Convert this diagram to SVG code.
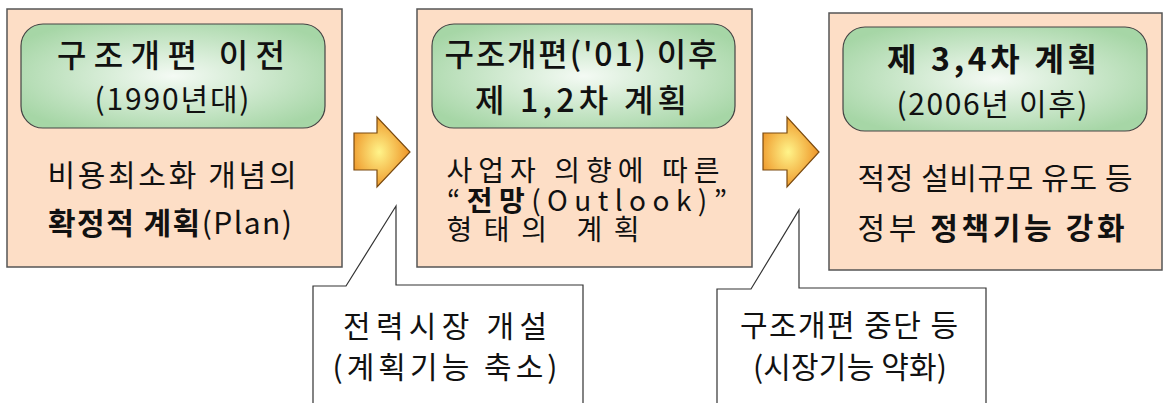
<svg xmlns="http://www.w3.org/2000/svg" width="1163" height="403" viewBox="0 0 1163 403">
<defs>
<radialGradient id="gg" cx="50%" cy="50%" r="60%">
<stop offset="0" stop-color="#F4FAF4"/>
<stop offset="1" stop-color="#A6D6A6"/>
</radialGradient>
<radialGradient id="og" cx="45%" cy="50%" r="60%">
<stop offset="0" stop-color="#FFF48A"/>
<stop offset="1" stop-color="#EC8A1C"/>
</radialGradient>
<style>
.box{fill:#FDDEC6;stroke:#555;stroke-width:1.5}
.inner{fill:url(#gg);stroke:#444;stroke-width:1.2}
.arr{fill:url(#og);stroke:#7A4A10;stroke-width:1.2}
.call{fill:#fff;stroke:#333;stroke-width:1.2}
text{font-family:"Noto Sans CJK KR","Noto Sans",sans-serif;fill:#111;text-anchor:middle}
.t{font-size:32px;font-weight:500}
.s{font-size:30px}
.m{font-size:28px}
.b{font-weight:700}
</style>
</defs>
<g id="connectors">
<path class="arr" d="M354,133 L377,133 L377,117 L410,152 L377,187 L377,170 L354,170 Z"/>
<path class="arr" d="M763,133 L787,133 L787,117 L819,152 L787,187 L787,170 L763,170 Z"/>
</g>
<g id="node1">
<rect class="box" x="7" y="9" width="335" height="258"/>
<rect class="inner" x="21" y="24" width="304" height="104" rx="22"/>
<text class="t" x="171" y="67" textLength="228" lengthAdjust="spacing">구조개편 이전</text>
<text class="s" x="172" y="110" textLength="155" lengthAdjust="spacing">(1990년대)</text>
<text class="s" x="172" y="186" textLength="249" lengthAdjust="spacing">비용최소화 개념의</text>
<text class="s" x="170" y="234" textLength="244" lengthAdjust="spacing"><tspan class="b">확정적 계획</tspan>(Plan)</text>
</g>
<g id="node2">
<rect class="box" x="417" y="9" width="335" height="258"/>
<rect class="inner" x="432" y="24" width="303" height="104" rx="22"/>
<text class="t" x="581" y="66" textLength="273" lengthAdjust="spacing">구조개편('01) 이후</text>
<text class="t" x="581" y="112" textLength="212" lengthAdjust="spacing">제 1,2차 계획</text>
<text class="m" x="583" y="181" textLength="273" lengthAdjust="spacing">사업자 의향에 따른</text>
<text class="m" x="587" y="211" textLength="280" lengthAdjust="spacing">“<tspan class="b">전망</tspan>(Outlook)”</text>
<text class="m" x="543" y="240" textLength="193" lengthAdjust="spacing">형태의  계획</text>
</g>
<g id="node3">
<rect class="box" x="829" y="13" width="333" height="257"/>
<rect class="inner" x="843" y="27" width="304" height="104" rx="22"/>
<text class="t b" x="992" y="71" textLength="210" lengthAdjust="spacing">제 3,4차 계획</text>
<text class="s" x="992" y="115" textLength="191" lengthAdjust="spacing">(2006년 이후)</text>
<text class="s" x="995" y="189" textLength="275" lengthAdjust="spacing">적정 설비규모 유도 등</text>
<text class="s" x="991" y="239" textLength="267" lengthAdjust="spacing">정부 <tspan class="b">정책기능 강화</tspan></text>
</g>
<g id="callout1">
<path class="call" d="M313,404 L313,286 L346,286 L396,206 L396,285 L583,285 L583,404"/>
<text class="s" x="445" y="337" textLength="204" lengthAdjust="spacing">전력시장 개설</text>
<text class="s" x="445" y="378" textLength="225" lengthAdjust="spacing">(계획기능 축소)</text>
</g>
<g id="callout2">
<path class="call" d="M717,404 L717,289 L751,289 L799,210 L799,288 L986,288 L986,404"/>
<text class="s" x="849" y="336" textLength="218" lengthAdjust="spacing">구조개편 중단 등</text>
<text class="s" x="850" y="378" textLength="194" lengthAdjust="spacing">(시장기능 약화)</text>
</g>
</svg>
